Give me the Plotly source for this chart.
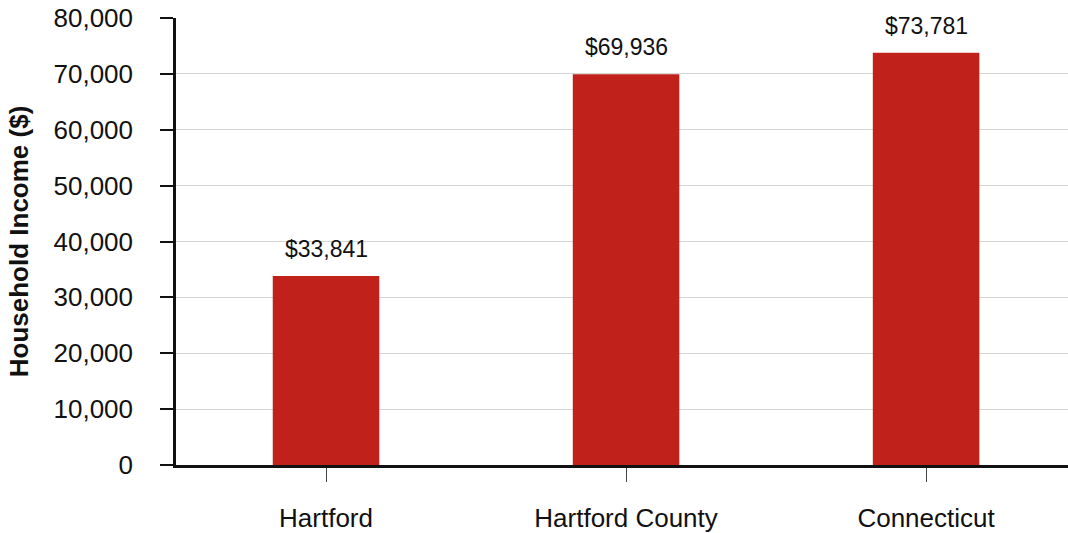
import plotly.graph_objects as go

# Median household income by area
places = ["Hartford", "Hartford County", "Connecticut"]
income = [33841, 69936, 73781]
labels = ["$33,841", "$69,936", "$73,781"]
y_ticks = [0, 10000, 20000, 30000, 40000, 50000, 60000, 70000, 80000]

bar_color = "#C0211A"
font_family = "Liberation Sans, Arial, sans-serif"

fig = go.Figure(go.Bar(
    x=places,
    y=income,
    marker_color=bar_color,
    marker_line_width=0,
    width=0.355,
    hoverinfo="x+y",
))

# value labels above the bars
for p, v, t in zip(places, income, labels):
    fig.add_annotation(x=p, y=v, text=t, showarrow=False,
                       yanchor="bottom", yshift=12,
                       font=dict(size=23, color="#111111", family=font_family))

fig.update_layout(
    width=1068, height=533,
    margin=dict(l=176, r=0, t=18, b=66),
    plot_bgcolor="white", paper_bgcolor="white",
    font=dict(family=font_family, size=26, color="#111111"),
    showlegend=False,
)
fig.update_xaxes(
    range=[-0.5, 2.473],
    showline=True, linecolor="#111111", linewidth=2.5,
    ticks="outside", ticklen=14, tickwidth=1, tickcolor="#444444",
    ticklabelstandoff=14,
    tickfont=dict(size=26),
    showgrid=False, zeroline=False,
)
fig.update_yaxes(
    range=[0, 80000],
    tickvals=y_ticks,
    tickformat=",d",
    showline=True, linecolor="#111111", linewidth=2.5,
    ticks="outside", ticklen=13, tickwidth=1.5, tickcolor="#111111",
    ticklabelstandoff=22,
    tickfont=dict(size=26),
    showgrid=True, gridcolor="#d6d6d6", gridwidth=1,
    zeroline=False,
    title=dict(text="<b>Household Income ($)</b>", font=dict(size=26), standoff=18),
)

# page body has a default margin; drop it so the figure sits at the window corner
fig.write_html("out.html", config={"displayModeBar": False},
               post_script="document.body.style.margin='0';document.body.style.overflow='hidden';")
